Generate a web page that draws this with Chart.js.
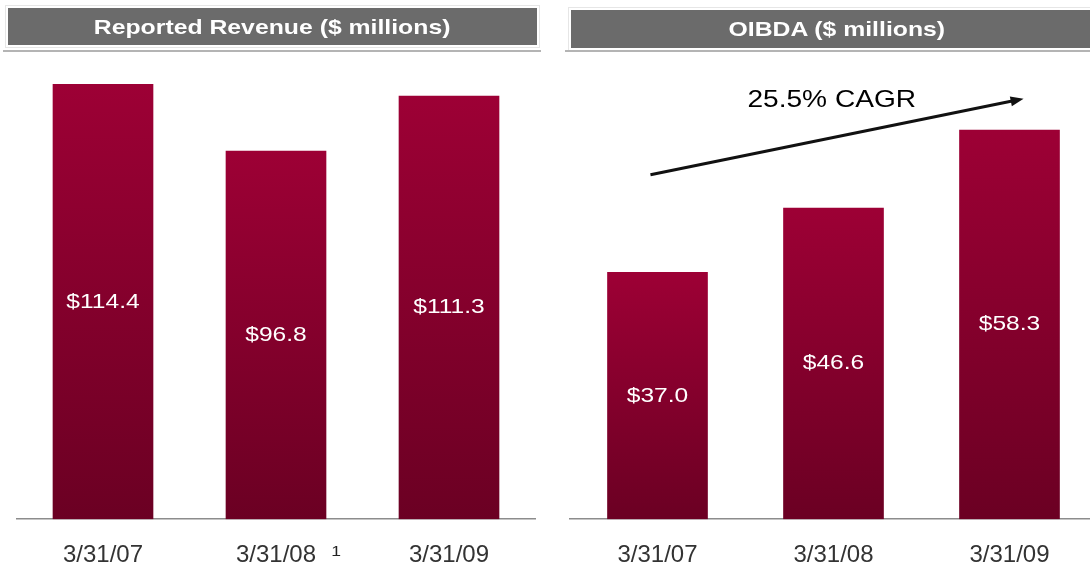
<!DOCTYPE html>
<html>
<head>
<meta charset="utf-8">
<script src="https://cdn.jsdelivr.net/npm/chart.js@4.4.1/dist/chart.umd.min.js"></script>
<style>
  html, body { margin: 0; padding: 0; background: #fff; }
  body { width: 1090px; height: 570px; overflow: hidden; position: relative; font-family: "Liberation Sans", Arial, sans-serif; }
  .panel { position: absolute; top: 0; height: 592px; }
  .header {
    position: absolute; background: #6b6b6b; color: #fff; font-weight: bold;
    font-size: 21px; display: flex; align-items: center; justify-content: center;
    box-shadow: 0 0 0 2px #fff, 0 0 0 3px #e6e6e6;
  }
  .header span { display: inline-block; transform: scaleX(1.18); }
  .rule { position: absolute; height: 2px; background: #b4b4b4; }
</style>
</head>
<body>
<div class="panel" style="left:0;width:545px"><canvas id="revChart" width="545" height="592"></canvas></div>
<div class="panel" style="left:545px;width:560px"><canvas id="oibdaChart" width="560" height="592"></canvas></div>

<div class="header" style="left:8px;top:8px;width:529px;height:37px"><span>Reported Revenue ($ millions)</span></div>
<div class="rule" style="left:3px;top:50px;width:538px"></div>
<div class="header" style="left:571px;top:10px;width:532px;height:38px"><span>OIBDA ($ millions)</span></div>
<div class="rule" style="left:565px;top:50px;width:530px"></div>

<script>
const categories = ['3/31/07', '3/31/08', '3/31/09'];
const revenue = [114.4, 96.8, 111.3];
const oibda = [37.0, 46.6, 58.3];
const footnotes = ['', '1', ''];
const cagrText = '25.5% CAGR';
// arrow ends in data space: category index (fractional) and value
const cagrFrom = { index: -0.04, value: 51.6 };
const cagrTo = { index: 2.08, value: 63.0 };
const cagrLabelAt = { index: 0.99, value: 62.7 };

const FONT = '"Liberation Sans", Arial, sans-serif';
const STRETCH = 1.17;

const barFill = (c) => {
    const chart = c.chart;
    if (!chart.chartArea || c.raw === undefined) return '#85002c';
    const y = chart.scales.y;
    const top = y.getPixelForValue(c.raw);
    const bot = y.getPixelForValue(0);
    const g = chart.ctx.createLinearGradient(0, top, 0, bot);
    g.addColorStop(0, '#9d0035');
    g.addColorStop(1, '#6b0023');
    return g;
};

const drawStretched = (ctx, text, x, y, size, color) => {
    ctx.save();
    ctx.translate(x, y);
    ctx.scale(STRETCH, 1);
    ctx.font = size + 'px ' + FONT;
    ctx.fillStyle = color;
    ctx.textAlign = 'center';
    ctx.textBaseline = 'middle';
    ctx.fillText(text, 0, 0);
    ctx.restore();
};

const valueLabels = {
    id: 'valueLabels',
    afterDatasetsDraw(chart) {
        const ctx = chart.ctx;
        const values = chart.data.datasets[0].data;
        chart.getDatasetMeta(0).data.forEach((bar, i) => {
            drawStretched(ctx, '$' + values[i].toFixed(1), bar.x, (bar.y + bar.base) / 2, 21, '#fff');
        });
    }
};

const footnoteMarks = {
    id: 'footnoteMarks',
    afterDraw(chart) {
        const ctx = chart.ctx;
        const x = chart.scales.x;
        ctx.save();
        ctx.font = '24px ' + FONT;
        footnotes.forEach((f, i) => {
            if (!f) return;
            const w = ctx.measureText(categories[i]).width;
            const px = x.getPixelForTick(i) + w / 2 + 20;
            drawStretched(ctx, f, px, x.top + 33, 15, '#222');
        });
        ctx.restore();
    }
};

const cagrArrow = {
    id: 'cagrArrow',
    afterDraw(chart) {
        const ctx = chart.ctx;
        const xs = chart.scales.x, ys = chart.scales.y;
        const px = (idx) => xs.getPixelForValue(0) + idx * (xs.getPixelForValue(1) - xs.getPixelForValue(0));
        const x1 = px(cagrFrom.index), y1 = ys.getPixelForValue(cagrFrom.value);
        const x2 = px(cagrTo.index), y2 = ys.getPixelForValue(cagrTo.value);
        const ang = Math.atan2(y2 - y1, x2 - x1);
        const head = 13;
        ctx.save();
        ctx.strokeStyle = '#111';
        ctx.fillStyle = '#111';
        ctx.lineWidth = 3;
        ctx.beginPath();
        ctx.moveTo(x1, y1);
        ctx.lineTo(x2 - head * 0.8 * Math.cos(ang), y2 - head * 0.8 * Math.sin(ang));
        ctx.stroke();
        ctx.beginPath();
        ctx.moveTo(x2, y2);
        ctx.lineTo(x2 - head * Math.cos(ang) + 5 * Math.sin(ang), y2 - head * Math.sin(ang) - 5 * Math.cos(ang));
        ctx.lineTo(x2 - head * Math.cos(ang) - 5 * Math.sin(ang), y2 - head * Math.sin(ang) + 5 * Math.cos(ang));
        ctx.closePath();
        ctx.fill();
        ctx.restore();
        drawStretched(ctx, cagrText, px(cagrLabelAt.index), ys.getPixelForValue(cagrLabelAt.value), 24, '#000');
    }
};

const makeChart = (id, values, yMax, pad, extraPlugins) => new Chart(document.getElementById(id), {
    type: 'bar',
    data: {
        labels: categories,
        datasets: [{ data: values, backgroundColor: barFill, barThickness: 100, borderWidth: 0 }]
    },
    options: {
        responsive: false,
        animation: false,
        layout: { padding: pad },
        plugins: { legend: { display: false }, tooltip: { enabled: false } },
        scales: {
            x: {
                grid: { display: false, drawTicks: false },
                border: { display: true, color: '#8c8c8c', width: 1.5 },
                ticks: { color: '#333', font: { family: FONT, size: 24 }, padding: 22, maxRotation: 0, autoSkip: false }
            },
            y: { display: false, min: 0, max: yMax }
        }
    },
    plugins: [valueLabels].concat(extraPlugins)
});

makeChart('revChart', revenue, 120, { left: 16.5, right: 9.5, top: 63, bottom: 0 }, [footnoteMarks]);
makeChart('oibdaChart', oibda, 70, { left: 24.5, right: 7.5, top: 52, bottom: 0 }, [cagrArrow]);
</script>
</body>
</html>
